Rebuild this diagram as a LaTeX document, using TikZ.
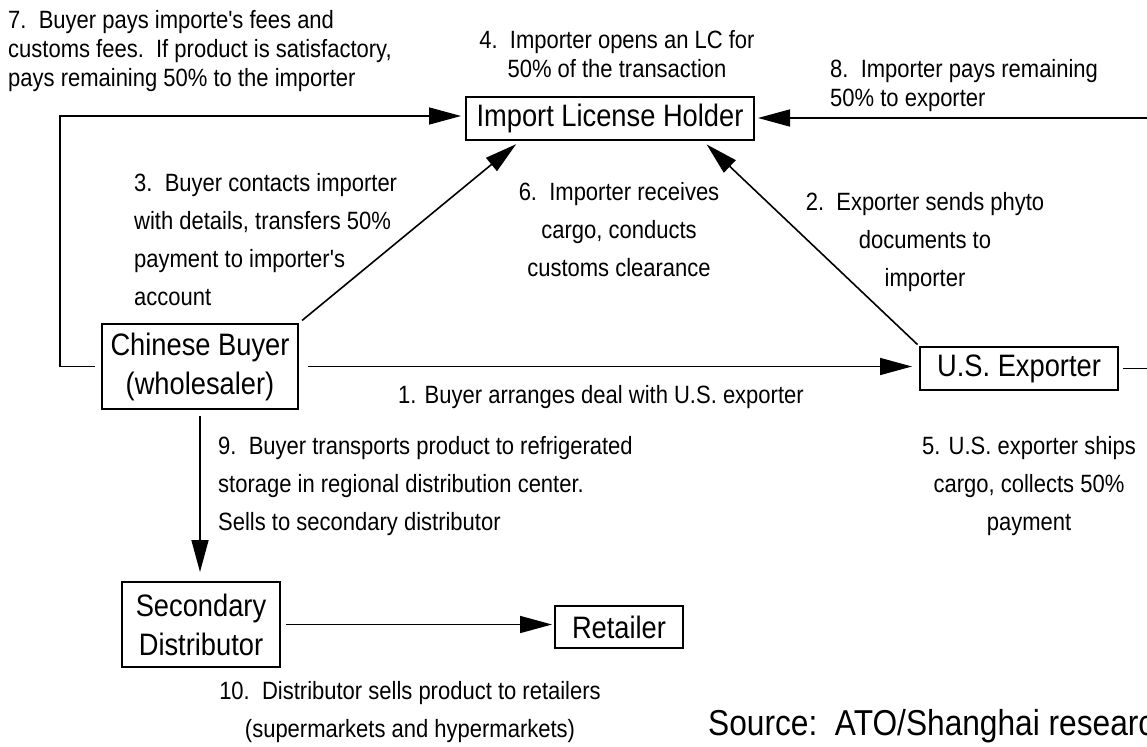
\documentclass[tikz,border=0pt]{standalone}
\usepackage{fontspec}
\setmainfont{Liberation Sans}[FakeStretch=0.88, Ligatures=TeXOff]
\usetikzlibrary{arrows.meta,calc}
\begin{document}
\begin{tikzpicture}[x=1pt,y=-1pt,
  box/.style={draw, line width=2pt, inner sep=0pt, font=\fontsize{31}{39}\selectfont, align=center},
  lab/.style={inner sep=0pt, font=\fontsize{25}{29}\selectfont},
  labw/.style={inner sep=0pt, font=\fontsize{25}{38}\selectfont},
  conn/.style={line width=1.6pt},
  arr/.style={conn, -{Triangle[length=32pt,width=17pt]}}
]
\clip (0,0) rectangle (1147,746);

% boxes
\node[box, minimum width=288pt, minimum height=43pt] (ilh) at (610,118.5) {Import License Holder};
\node[box, minimum width=196pt, minimum height=85pt] (cb) at (200,366.5) {Chinese Buyer\\(wholesaler)};
\node[box, minimum width=198pt, minimum height=43pt] (use) at (1019,368.5) {U.S. Exporter};
\node[box, minimum width=158pt, minimum height=85pt] (sd) at (201,624.5) {Secondary\\Distributor};
\node[box, minimum width=128pt, minimum height=42pt] (ret) at (619,627) {Retailer};

% connectors
\draw[arr, shorten <=9pt, shorten >=7pt] (cb.east) -- (cb.east -| use.west);
\draw[arr, shorten <=4pt, shorten >=5pt] (cb.north east) -- ([xshift=-90pt]ilh.south);
\draw[arr, shorten <=2pt, shorten >=5pt] (use.north west) -- ([xshift=93pt]ilh.south);
\coordinate (lc) at (60,116);
\draw[arr, shorten >=4pt] ([xshift=-6pt]cb.west) -| (lc) -- (lc -| ilh.west);
\coordinate (rc) at (1170,118);
\draw[arr, shorten >=3pt] ([xshift=4pt]use.east) -| (rc) -- (rc -| ilh.east);
\draw[arr, shorten <=6pt, shorten >=9pt] (cb.south) -- (cb.south |- sd.north);
\draw[arr, shorten <=5pt, shorten >=2pt] (sd.east) -- (sd.east -| ret.west);

% labels
\node[lab, anchor=north west, align=left] (t7) at (8,10) {7.\ \ Buyer pays importe's fees and\\customs fees.\ \ If product is satisfactory,\\pays remaining 50\% to the importer};
\node[lab, anchor=north, align=center] (t4) at (617,30) {4.\ \ Importer opens an LC for\\50\% of the transaction};
\node[lab, anchor=north west, align=left] (t8) at (830,59) {8.\ \ Importer pays remaining\\50\% to exporter};
\node[labw, anchor=north west, align=left] (t3) at (134,173) {3.\ \ Buyer contacts importer\\with details, transfers 50\%\\payment to importer's\\account};
\node[labw, anchor=north, align=center] (t6) at (619,182) {6.\ \ Importer receives\\cargo, conducts\\customs clearance};
\node[labw, anchor=north, align=center] (t2) at (925,192) {2.\ \ Exporter sends phyto\\documents to\\importer};
\node[lab, anchor=north west] (t1) at (398,385) {1. Buyer arranges deal with U.S. exporter};
\node[labw, anchor=north, align=center] (t5) at (1029,436) {5. U.S. exporter ships\\cargo, collects 50\%\\payment};
\node[labw, anchor=north west, align=left] (t9) at (218,436) {9.\ \ Buyer transports product to refrigerated\\storage in regional distribution center.\\Sells to secondary distributor};
\node[labw, anchor=north, align=center] (t10) at (410,681) {10.\ \ Distributor sells product to retailers\\(supermarkets and hypermarkets)};
\node[inner sep=0pt, anchor=north west, font=\fontsize{36}{40}\selectfont] (src) at (708,709) {Source:\ \ ATO/Shanghai research};
\end{tikzpicture}
\end{document}
